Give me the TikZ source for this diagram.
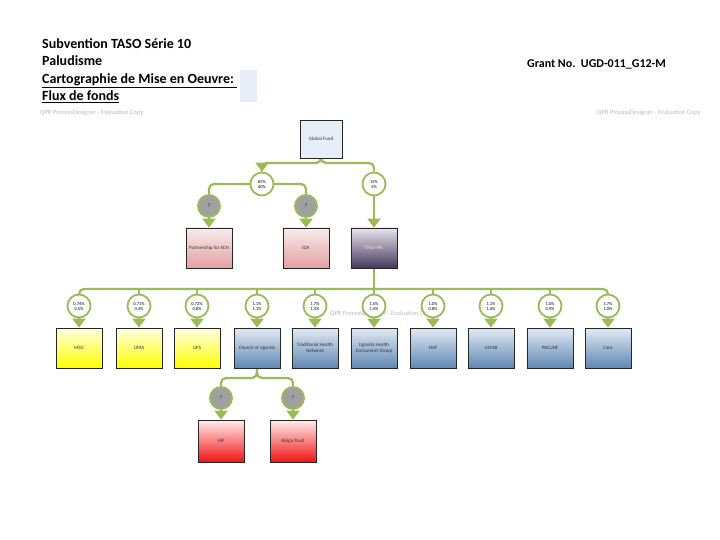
\documentclass[tikz,border=0pt]{standalone}
\usepackage{fontspec}
\setmainfont{Carlito}
\usetikzlibrary{arrows.meta,backgrounds}
\definecolor{gline}{RGB}{155,187,89}
\definecolor{gcirc}{RGB}{160,160,160}
\definecolor{wmark}{RGB}{185,185,185}
\definecolor{gfill}{RGB}{232,238,247}
\definecolor{tagfill}{RGB}{232,237,245}
\tikzset{
  gl/.style={draw=gline,line width=2.2pt},
  arr/.style={-{Triangle[width=13pt,length=9pt]}},
  plainbox/.style={draw=black!85,line width=0.8pt,minimum width=46pt,minimum height=40pt,
    inner sep=1pt,align=center,font=\fontsize{5}{6}\selectfont,text=black!80},
  boxbase/.style={plainbox,shading angle=45},
  ybox/.style={boxbase,top color=yellow!12,bottom color=yellow},
  bbox/.style={boxbase,top color={rgb,255:red,226;green,234;blue,244},bottom color={rgb,255:red,95;green,135;blue,180}},
  rbox/.style={boxbase,top color={rgb,255:red,255;green,236;blue,236},bottom color={rgb,255:red,240;green,20;blue,20}},
  pbox/.style={boxbase,top color={rgb,255:red,248;green,236;blue,236},bottom color={rgb,255:red,228;green,160;blue,160}},
  vbox/.style={boxbase,top color={rgb,255:red,232;green,228;blue,240},bottom color={rgb,255:red,70;green,55;blue,90},text=white!90!black},
  pct/.style={circle,draw=gline,line width=1.8pt,fill=white,minimum size=23pt,inner sep=0pt,
    align=center,font=\fontsize{4.5}{5}\selectfont},
  qc/.style={circle,draw=gline,line width=1.8pt,fill=gcirc,minimum size=22pt,inner sep=0pt,
    font=\fontsize{5}{6}\selectfont},
  wm/.style={text=wmark,font=\fontsize{6.5}{7}\selectfont,inner sep=0pt,anchor=west},
  ttl/.style={font=\bfseries\fontsize{14}{16}\selectfont,inner sep=0pt,anchor=base west}
}
\begin{document}
\begin{tikzpicture}[x=1pt,y=-1pt]
\useasboundingbox (0,0) rectangle (720,540);
% header
\node[fill=tagfill,minimum width=17pt,minimum height=32pt,inner sep=0pt] (tag) at (248.5,86) {};
\node[ttl] (t1) at (42,48.5) {Subvention TASO Série 10};
\node[ttl] (t2) at (42,66) {Paludisme};
\node[ttl] (t3) at (42,83.5) {\underline{Cartographie de Mise en Oeuvre:\ }};
\node[ttl] (t4) at (42,101) {\underline{Flux de fonds}};
\node[font=\bfseries\fontsize{12}{14}\selectfont,inner sep=0pt,anchor=base west] (gn) at (527,67.5) {Grant No.\ \ UGD-011\_G12-M};
\node[wm] (w1) at (40,113) {QPR ProcessDesigner - Evaluation Copy};
\node[wm] (w2) at (597,113) {QPR ProcessDesigner - Evaluation Copy};
% top level
\node[plainbox,fill=gfill,minimum width=42pt,minimum height=38pt] (gf) at (321,139) {Global Fund};
\node[pct] (p1) at (262,184) {85\%\\60\%};
\node[pct] (p2) at (374,184) {15\%\\5\%};
\node[qc] (q1) at (209,206) {?};
\node[qc] (q2) at (306,206) {?};
\node[pbox] (b1) at (209,248) {Partnership for SCN};
\node[pbox] (b2) at (306,248) {IDA};
\node[vbox] (taso) at (374,248) {TASO-SPL};
% second level
\coordinate (bar) at (0,289);
\foreach \n/\x/\a/\b in {1/79/0.74\%/0.5\%,2/139/0.71\%/0.4\%,3/197/0.72\%/0.8\%,4/257/1.1\%/1.1\%,5/315/1.7\%/1.4\%,6/374/1.5\%/1.4\%,7/433/1.0\%/0.8\%,8/491/1.1\%/1.0\%,9/550/1.0\%/0.9\%,10/608/1.7\%/1.0\%}
  \node[pct] (c\n) at (\x,306) {\a\\\b};
\node[ybox] (s1) at (79,348) {MSG};
\node[ybox] (s2) at (139,348) {UMA};
\node[ybox] (s3) at (197,348) {UPS};
\node[bbox] (s4) at (257,348) {Church of Uganda};
\node[bbox] (s5) at (315,348) {Traditional Health\\Network};
\node[bbox] (s6) at (374,348) {Uganda Health\\Consumers Group};
\node[bbox] (s7) at (433,348) {NAF};
\node[bbox] (s8) at (491,348) {UCMB};
\node[bbox] (s9) at (550,348) {PACUHF};
\node[bbox] (s10) at (608,348) {Care};
% third level
\coordinate (bar2) at (0,378);
\node[qc] (g1) at (221,398) {?};
\node[qc] (g2) at (293,398) {?};
\node[rbox,minimum height=42pt] (r1) at (221,441) {HIF};
\node[rbox,minimum height=42pt] (r2) at (293,441) {Kisiga Trust};
% connectors
\begin{pgfonlayer}{background}
\node[wm] (w3) at (330,314) {QPR ProcessDesigner - Evaluation Copy};
\coordinate (bar0) at (0,163);
\draw[gl,arr,rounded corners=5] (gf.south) |- (p1.north |- bar0) -- (p1.north);
\draw[gl,rounded corners=5] (gf.south) |- (p2.north |- bar0) -- (p2.north);
\draw[gl,arr] (p2.south) -- (taso.north);
\draw[gl,rounded corners=5] (p1.center) -| (q1.north);
\draw[gl,rounded corners=5] (p1.center) -| (q2.north);
\draw[gl,arr] (q1.south) -- (b1.north);
\draw[gl,arr] (q2.south) -- (b2.north);
\draw[gl,rounded corners=5] (c1.north) |- (c10.north |- bar) -- (c10.north);
\draw[gl] (taso.south) -- (taso.south |- bar);
\foreach \n in {2,...,9} \draw[gl] (c\n.north) -- (c\n.north |- bar);
\foreach \n in {1,...,10} \draw[gl,arr] (c\n.south) -- (s\n.north);
\draw[gl,rounded corners=5] (s4.south) |- (g1.north |- bar2) -- (g1.north);
\draw[gl,rounded corners=5] (s4.south) |- (g2.north |- bar2) -- (g2.north);
\draw[gl,arr] (g1.south) -- (r1.north);
\draw[gl,arr] (g2.south) -- (r2.north);
\end{pgfonlayer}
\end{tikzpicture}
\end{document}
